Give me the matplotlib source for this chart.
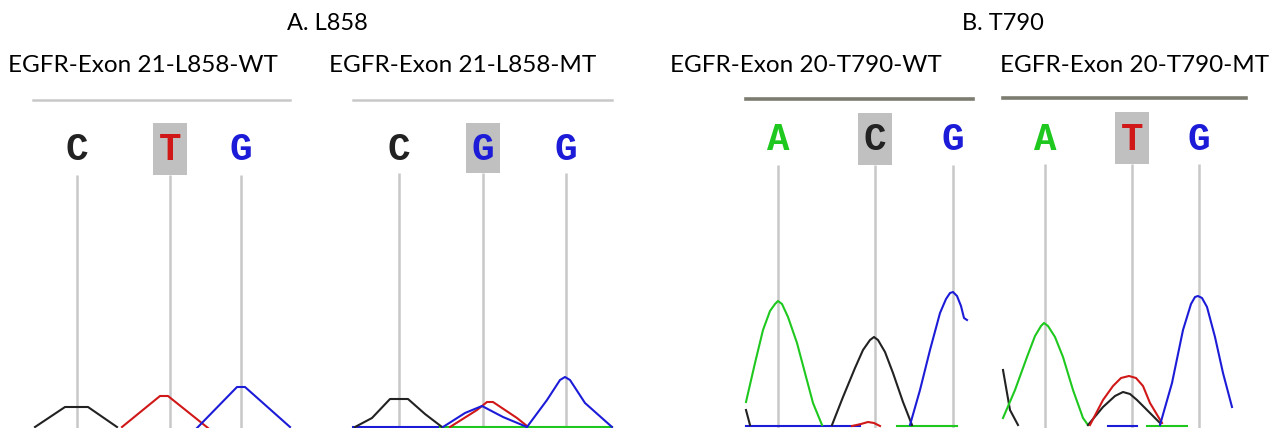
import matplotlib
matplotlib.use("Agg")
import matplotlib.pyplot as plt
from matplotlib.patches import Rectangle

W, H = 1275, 428

# ---------------- data ----------------
group_titles = ["A. L858", "B. T790"]
panel_titles = ["EGFR-Exon 21-L858-WT", "EGFR-Exon 21-L858-MT",
                "EGFR-Exon 20-T790-WT", "EGFR-Exon 20-T790-MT"]

# Panel 1: L858 WT
p1_bases = ["C", "T", "G"]
p1_base_pos = [44, 137, 208]
p1_black_x = [2, 32, 55, 84]
p1_black_y = [1, 21, 21, 1]
p1_red_x = [89, 127, 135, 175]
p1_red_y = [1, 32, 32, 0]
p1_blue_x = [164, 204, 212, 257]
p1_blue_y = [0, 41, 41, 1]

# Panel 2: L858 MT
p2_bases = ["C", "G", "G"]
p2_base_pos = [46, 130, 213]
p2_black_x = [2, 19, 37, 55, 72, 89]
p2_black_y = [1, 10, 29, 29, 14, 1]
p2_red_x = [97, 124, 134, 140, 164, 174]
p2_red_y = [1, 18, 26, 26, 10, 2]
p2_blue1_x = [90, 112, 129, 150, 174]
p2_blue1_y = [1, 15, 22, 11, 1]
p2_blue2_x = [174, 194, 207, 212, 217, 232, 259]
p2_blue2_y = [1, 28, 48, 51, 48, 25, 1]
p2_bblue_x = [0, 87]
p2_bblue_y = [1.5, 1.5]
p2_bgreen_x = [87, 259]
p2_bgreen_y = [1.5, 1.5]

# Panel 3: T790 WT
p3_bases = ["A", "C", "G"]
p3_base_pos = [32, 129, 207]
p3_green_x = [0, 9, 17, 24, 29, 32, 36, 42, 51, 59, 67, 76]
p3_green_y = [26, 65, 98, 117, 124, 127, 124, 111, 85, 55, 25, 3]
p3_black_x = [86, 97, 109, 117, 124, 128, 132, 139, 147, 157, 166]
p3_black_y = [3, 31, 60, 78, 88, 91, 88, 76, 55, 26, 3]
p3_blue_x = [164, 174, 184, 194, 200, 204, 207, 211, 215, 218, 221]
p3_blue_y = [3, 38, 78, 115, 129, 135, 136, 132, 122, 110, 108]
p3_black0_x = [0, 4]
p3_black0_y = [18, 3]
p3_red_x = [106, 115, 122, 128, 134]
p3_red_y = [2, 4, 6, 5, 2]
p3_bblue_x = [0, 114]
p3_bblue_y = [2, 2]
p3_bgreen_x = [151, 211]
p3_bgreen_y = [2, 2]

# Panel 4: T790 MT
p4_bases = ["A", "T", "G"]
p4_base_pos = [42, 129, 196]
p4_green_x = [0, 12, 24, 32, 38, 41, 45, 52, 60, 70, 80, 85]
p4_green_y = [10, 38, 71, 92, 102, 105, 102, 91, 71, 38, 10, 3]
p4_black0_x = [0, 7, 15]
p4_black0_y = [58, 18, 3]
p4_black_x = [85, 100, 112, 120, 127, 134, 147, 157]
p4_black_y = [3, 21, 32, 36, 34, 28, 15, 5]
p4_red_x = [87, 100, 110, 118, 126, 133, 140, 147, 159]
p4_red_y = [3, 28, 42, 50, 52, 50, 42, 25, 5]
p4_blue_x = [157, 169, 180, 188, 192, 195, 199, 204, 212, 220, 229]
p4_blue_y = [3, 45, 98, 124, 131, 132, 130, 121, 91, 55, 21]
p4_bblue_x = [105, 134]
p4_bblue_y = [2, 2]
p4_bgreen_x = [144, 184]
p4_bgreen_y = [2, 2]

highlight_index = 1

# ---------------- style ----------------
GREEN = "#1ec81e"
BLUE = "#1c1cd8"
RED = "#d01818"
BLACK = "#222222"
BASE_COLORS = {"A": GREEN, "C": BLACK, "G": BLUE, "T": RED}

fig = plt.figure(figsize=(W / 100, H / 100), dpi=100)
fig.patch.set_facecolor("white")

TEXT_FONT = ["Lato", "DejaVu Sans"]
fig.text(327 / W, 1 - 23 / H, group_titles[0], ha="center", va="center",
         fontsize=17, family=TEXT_FONT)
fig.text(1003 / W, 1 - 23 / H, group_titles[1], ha="center", va="center",
         fontsize=17, family=TEXT_FONT)
title_centers = [143, 463, 806, 1135]
for t, cx in zip(panel_titles, title_centers):
    fig.text(cx / W, 1 - 65 / H, t, ha="center", va="center",
             fontsize=17.5, family=TEXT_FONT)

panels = [
    dict(left=33, right=290, top=99, lc="#c8c8c8", lw=1.8,
         bases=p1_bases, pos=p1_base_pos, letter_y=150, box=(123, 175),
         traces=[(p1_black_x, p1_black_y, BLACK), (p1_red_x, p1_red_y, RED),
                 (p1_blue_x, p1_blue_y, BLUE)]),
    dict(left=353, right=612, top=99, lc="#c8c8c8", lw=1.8,
         bases=p2_bases, pos=p2_base_pos, letter_y=150, box=(123, 173),
         traces=[(p2_bblue_x, p2_bblue_y, BLUE), (p2_bgreen_x, p2_bgreen_y, GREEN),
                 (p2_black_x, p2_black_y, BLACK), (p2_red_x, p2_red_y, RED),
                 (p2_blue1_x, p2_blue1_y, BLUE), (p2_blue2_x, p2_blue2_y, BLUE)]),
    dict(left=746, right=973, top=98, lc="#7c7c70", lw=2.6,
         bases=p3_bases, pos=p3_base_pos, letter_y=140, box=(113, 165),
         traces=[(p3_bblue_x, p3_bblue_y, BLUE), (p3_bgreen_x, p3_bgreen_y, GREEN),
                 (p3_red_x, p3_red_y, RED), (p3_black0_x, p3_black0_y, BLACK),
                 (p3_green_x, p3_green_y, GREEN), (p3_black_x, p3_black_y, BLACK),
                 (p3_blue_x, p3_blue_y, BLUE)]),
    dict(left=1003, right=1246, top=97, lc="#7c7c70", lw=2.6,
         bases=p4_bases, pos=p4_base_pos, letter_y=140, box=(112, 164),
         traces=[(p4_bblue_x, p4_bblue_y, BLUE), (p4_bgreen_x, p4_bgreen_y, GREEN),
                 (p4_black0_x, p4_black0_y, BLACK), (p4_green_x, p4_green_y, GREEN),
                 (p4_black_x, p4_black_y, BLACK), (p4_red_x, p4_red_y, RED),
                 (p4_blue_x, p4_blue_y, BLUE)]),
]

for p in panels:
    width = p["right"] - p["left"]
    top_sig = H - p["top"]
    ax = fig.add_axes([p["left"] / W, 0, width / W, top_sig / H])
    ax.set_xlim(0, width)
    ax.set_ylim(0, top_sig)
    ax.axis("off")
    ax.axhline(top_sig - 1, color=p["lc"], lw=p["lw"], clip_on=False)
    line_top = H - p["box"][1]
    ax.vlines(p["pos"], 0, line_top, color="#c8c8c8", lw=1.8, zorder=1)
    hx = p["pos"][highlight_index]
    b0, b1 = H - p["box"][1], H - p["box"][0]
    ax.add_patch(Rectangle((hx - 17, b0), 34, b1 - b0, facecolor="#c0c0c0",
                           edgecolor="none", zorder=1))
    for b, x in zip(p["bases"], p["pos"]):
        ax.text(x, H - p["letter_y"], b, ha="center", va="center",
                fontsize=27, fontweight="bold",
                family=["Liberation Mono", "DejaVu Sans Mono"],
                color=BASE_COLORS[b], zorder=3)
    for xs, ys, c in p["traces"]:
        ax.plot(xs, ys, color=c, lw=1.5, zorder=2, solid_joinstyle="round",
                clip_on=False)

fig.savefig("out.png", dpi=100, facecolor="white")
